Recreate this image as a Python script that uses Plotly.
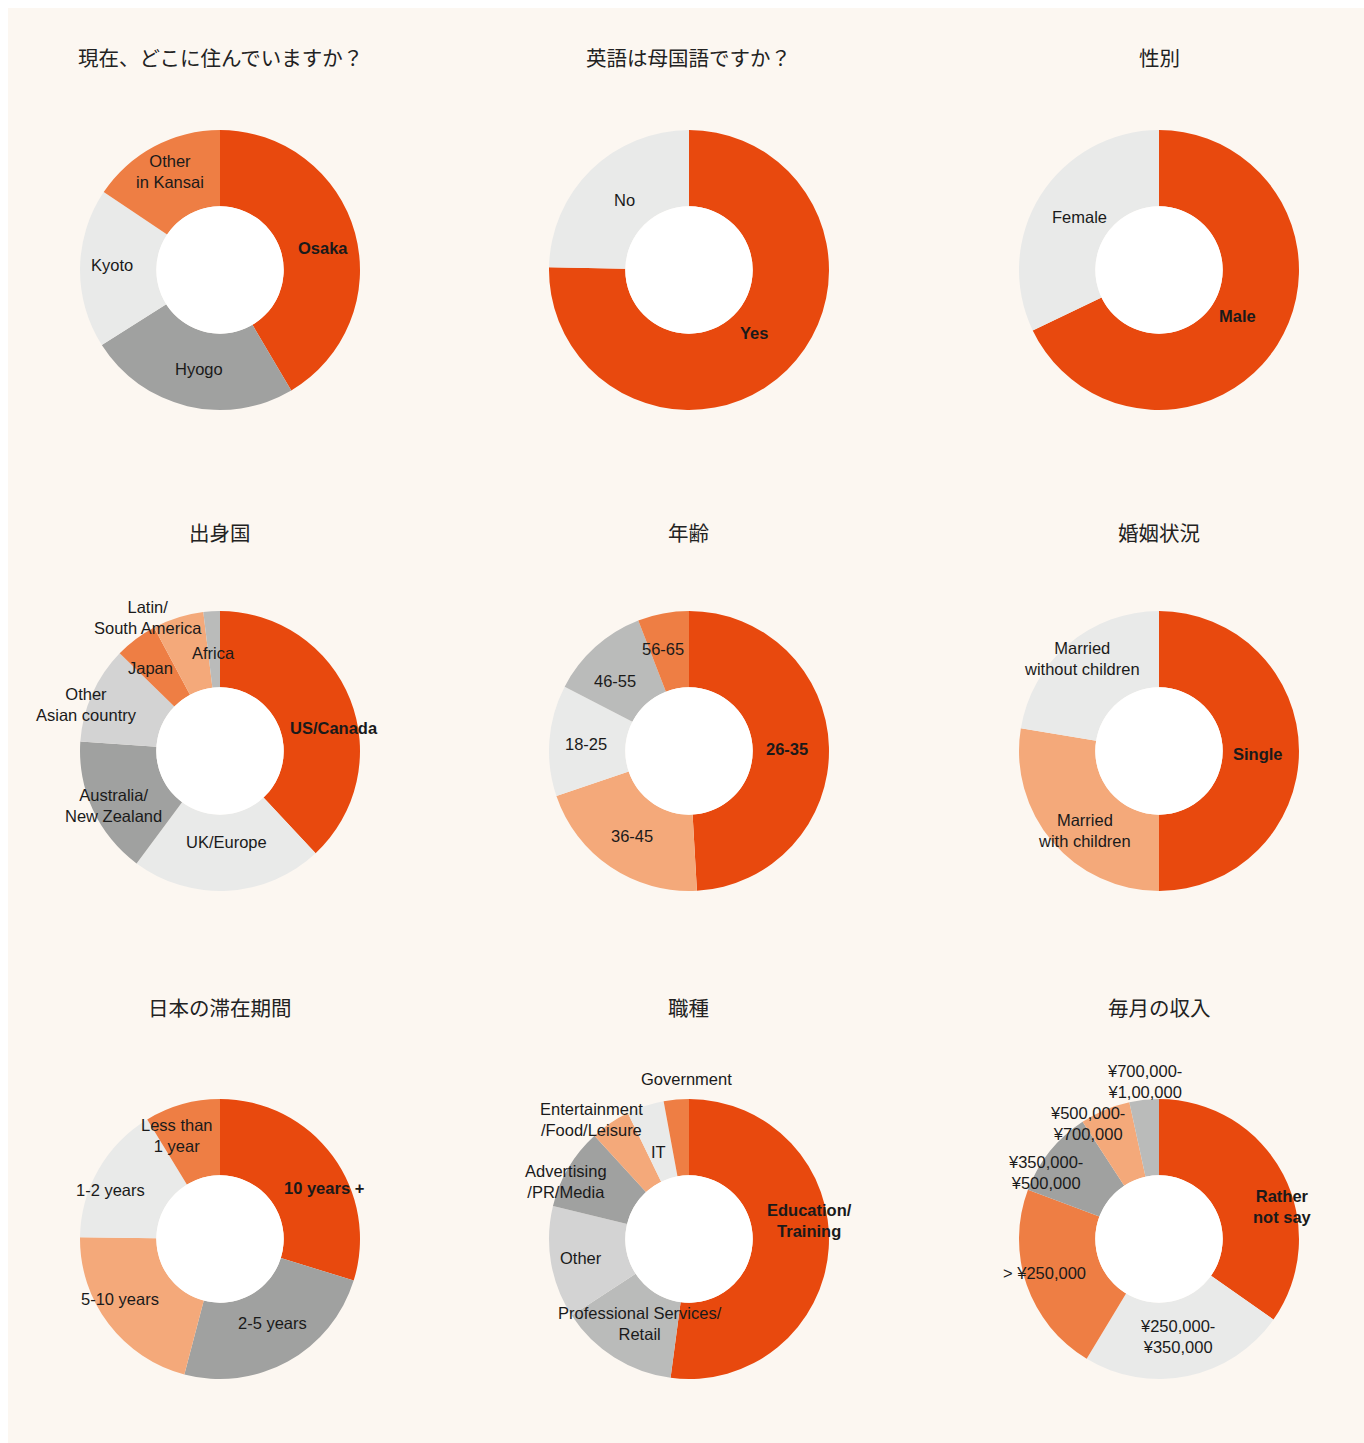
import math
import plotly.graph_objects as go

# page body margin of the browser is 8px; the figure itself starts at (8, 8)
OFF = 8
W, H = 1356, 1445

# ---------------- data ----------------
titles = ["現在、どこに住んでいますか？", "英語は母国語ですか？", "性別",
          "出身国", "年齢", "婚姻状況",
          "日本の滞在期間", "職種", "毎月の収入"]

residence_labels = ["Osaka", "Hyogo", "Kyoto", "Other<br>in Kansai"]
residence_values = [41.5, 24.5, 18.4, 15.6]

english_labels = ["Yes", "No"]
english_values = [75.3, 24.7]

gender_labels = ["Male", "Female"]
gender_values = [67.9, 32.1]

origin_labels = ["US/Canada", "UK/Europe", "Australia/<br>New Zealand", "Other<br>Asian country",
                 "Japan", "Latin/<br>South America", "Africa"]
origin_values = [38.0, 22.1, 15.9, 11.2, 4.9, 5.9, 1.9]

age_labels = ["26-35", "36-45", "18-25", "46-55", "56-65"]
age_values = [49.1, 20.7, 12.8, 11.5, 5.9]

marital_labels = ["Single", "Married<br>with children", "Married<br>without children"]
marital_values = [50.0, 27.6, 22.4]

stay_labels = ["10 years +", "2-5 years", "5-10 years", "1-2 years", "Less than<br>1 year"]
stay_values = [29.8, 24.3, 21.1, 16.1, 8.7]

job_labels = ["Education/<br>Training", "Professional Services/<br>Retail", "Other",
              "Advertising<br>/PR/Media", "Entertainment<br>/Food/Leisure", "IT", "Government"]
job_values = [52.1, 13.7, 13.0, 9.4, 4.6, 4.3, 2.9]

income_labels = ["Rather<br>not say", "¥250,000-<br>¥350,000", "> ¥250,000",
                 "¥350,000-<br>¥500,000", "¥500,000-<br>¥700,000", "¥700,000-<br>¥1,00,000"]
income_values = [34.8, 23.9, 22.1, 10.1, 5.8, 3.4]

# ---------------- styles ----------------
RED = "#E8490E"
ORANGE = "#EE7E44"
PEACH = "#F4A97A"
LIGHT = "#E9EAE9"
MIDG = "#A0A1A0"
SILVER = "#BABBBA"
PALE = "#D3D3D3"

colors = [
    [RED, MIDG, LIGHT, ORANGE],
    [RED, LIGHT],
    [RED, LIGHT],
    [RED, LIGHT, MIDG, PALE, ORANGE, PEACH, SILVER],
    [RED, PEACH, LIGHT, SILVER, ORANGE],
    [RED, PEACH, LIGHT],
    [RED, MIDG, PEACH, LIGHT, ORANGE],
    [RED, SILVER, PALE, MIDG, PEACH, LIGHT, ORANGE],
    [RED, LIGHT, ORANGE, MIDG, PEACH, SILVER],
]

pies = [
    (residence_labels, residence_values),
    (english_labels, english_values),
    (gender_labels, gender_values),
    (origin_labels, origin_values),
    (age_labels, age_values),
    (marital_labels, marital_values),
    (stay_labels, stay_values),
    (job_labels, job_values),
    (income_labels, income_values),
]

# layout of the grid (page pixels)
COL_X = [220, 689, 1159]
ROW_Y = [270, 751, 1239]
TITLE_Y = [57, 532, 1007]
R = 140
HOLE = 0.455

# label placement: (radius fraction, angle in degrees clockwise from 12 o'clock)
LABEL_POS = {
    "Osaka": (0.75, 78), "Hyogo": (0.72, 192), "Kyoto": (0.77, 272.6), "Other<br>in Kansai": (0.79, 333),
    "Yes": (0.65, 134), "No": (0.68, 317),
    "Male": (0.65, 120), "Female": (0.68, 303.5),
    "US/Canada": (0.83, 78.6), "UK/Europe": (0.65, 176), "Australia/<br>New Zealand": (0.85, 243),
    "Other<br>Asian country": (1.01, 289), "Japan": (0.77, 320), "Latin/<br>South America": (1.08, 331.6),
    "Africa": (0.70, 356),
    "26-35": (0.70, 88.8), "36-45": (0.73, 213.8), "18-25": (0.74, 274), "46-55": (0.73, 313.4),
    "56-65": (0.75, 345.7),
    "Single": (0.71, 92), "Married<br>with children": (0.78, 223), "Married<br>without children": (0.86, 320),
    "10 years +": (0.83, 64), "2-5 years": (0.71, 148), "5-10 years": (0.83, 239),
    "1-2 years": (0.86, 294), "Less than<br>1 year": (0.80, 337.5),
    "Education/<br>Training": (0.87, 81.5), "Professional Services/<br>Retail": (0.70, 210),
    "Other": (0.78, 260), "Advertising<br>/PR/Media": (0.97, 295), "Entertainment<br>/Food/Leisure": (1.10, 320.8),
    "IT": (0.66, 340.6), "Government": (1.14, 359),
    "Rather<br>not say": (0.91, 75), "¥250,000-<br>¥350,000": (0.71, 169), "> ¥250,000": (0.85, 253.4),
    "¥350,000-<br>¥500,000": (0.94, 300.4), "¥500,000-<br>¥700,000": (0.97, 328.2),
    "¥700,000-<br>¥1,00,000": (1.13, 354.6),
}

LABEL_FONT = "Liberation Sans, Arial, Helvetica, sans-serif"
TITLE_FONT = "Noto Sans CJK JP, sans-serif"

fig = go.Figure()
shapes = []
annotations = []


def px(x):
    return (x - OFF) / W


def py(y):
    return 1 - (y - OFF) / H


for i, ((labels, values), cols) in enumerate(zip(pies, colors)):
    cx = COL_X[i % 3]
    cy = ROW_Y[i // 3]
    fig.add_trace(go.Pie(
        labels=labels, values=values, sort=False, direction="clockwise", rotation=0,
        hole=HOLE, textinfo="none", hoverinfo="label+value",
        marker=dict(colors=cols, line=dict(width=0)),
        domain=dict(x=[px(cx - R), px(cx + R)], y=[py(cy + R), py(cy - R)]),
        showlegend=False,
    ))
    rh = R * HOLE
    shapes.append(dict(type="circle", xref="paper", yref="paper", layer="above",
                       x0=px(cx - rh), x1=px(cx + rh), y0=py(cy + rh), y1=py(cy - rh),
                       fillcolor="white", line=dict(width=0)))
    annotations.append(dict(text=titles[i], x=px(cx), y=py(TITLE_Y[i // 3]), xref="paper", yref="paper",
                            showarrow=False, xanchor="center", yanchor="middle",
                            font=dict(family=TITLE_FONT, size=20.5, color="#222222")))
    total = sum(values)
    start = 0.0
    biggest = max(range(len(values)), key=lambda k: values[k])
    for k, (lab, v) in enumerate(zip(labels, values)):
        mid = (start + v / 2) / total * 360
        start += v
        rf, ang = LABEL_POS.get(lab, (0.74, mid))
        a = math.radians(ang)
        lx = cx + rf * R * math.sin(a)
        ly = cy - rf * R * math.cos(a)
        txt = f"<b>{lab}</b>" if k == biggest else lab
        annotations.append(dict(text=txt, x=px(lx), y=py(ly), xref="paper", yref="paper",
                                showarrow=False, xanchor="center", yanchor="middle", align="center",
                                font=dict(family=LABEL_FONT, size=16.5, color="#1a1a1a")))

fig.update_layout(width=W, height=H, margin=dict(l=0, r=0, t=0, b=0),
                  paper_bgcolor="#FCF7F1", plot_bgcolor="#FCF7F1",
                  shapes=shapes, annotations=annotations)

fig.write_html("out.html",
               post_script="document.documentElement.style.overflow='hidden';"
                           "document.body.style.overflow='hidden';"
                           "document.body.style.margin='8px 0 0 8px';")
